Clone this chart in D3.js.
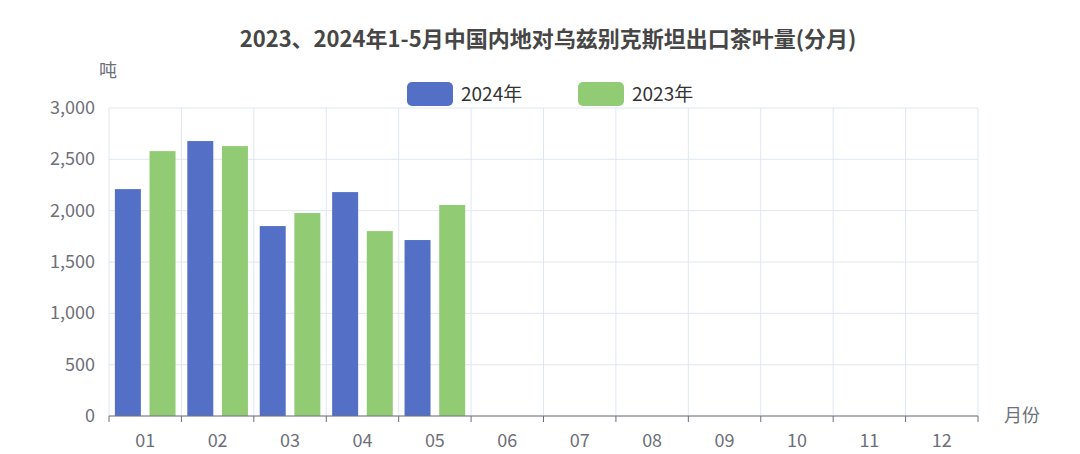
<!DOCTYPE html>
<html><head><meta charset="utf-8">
<script src="https://cdn.jsdelivr.net/npm/d3@7/dist/d3.min.js"></script>
<style>body{margin:0;background:#fff;font-family:"Noto Sans CJK SC","Noto Sans",sans-serif}</style>
</head><body><svg id="c" width="1080" height="454"></svg>
<script>
const months=["01","02","03","04","05","06","07","08","09","10","11","12"];
const s2024=[2210,2678,1850,2181,1714];
const s2023=[2580,2629,1977,1801,2055];
const yTicks=[0,500,1000,1500,2000,2500,3000];
const svg=d3.select("#c");
const L=109,R=978,T=108,B=416;
const x=d3.scaleBand().domain(months).range([L,R]);
const y=d3.scaleLinear().domain([0,3000]).range([B,T]);
const f="#6e7079";
svg.append("text").attr("x",548).attr("y",47).attr("text-anchor","middle").attr("font-size",22).attr("font-weight","bold").attr("fill","#464646").text("2023、2024年1-5月中国内地对乌兹别克斯坦出口茶叶量(分月)");
yTicks.forEach(t=>{svg.append("line").attr("x1",L).attr("x2",R).attr("y1",y(t)).attr("y2",y(t)).attr("stroke","#e0e6f1");
 svg.append("text").attr("x",95).attr("y",y(t)+6).attr("text-anchor","end").attr("font-size",18).attr("fill",f).text(d3.format(",")(t));});
months.forEach(m=>{svg.append("line").attr("x1",x(m)).attr("x2",x(m)).attr("y1",T).attr("y2",B).attr("stroke","#e0e6f1");});
svg.append("line").attr("x1",R).attr("x2",R).attr("y1",T).attr("y2",B).attr("stroke","#e0e6f1");
const inner=d3.scaleBand().domain(["a","b"]).range([0,x.bandwidth()]).paddingInner(0.25).paddingOuter(0.17);
const draw=(data,k,c)=>svg.selectAll(null).data(data).enter().append("rect")
 .attr("x",(d,i)=>x(months[i])+inner(k)).attr("width",inner.bandwidth())
 .attr("y",d=>y(d)).attr("height",d=>B-y(d)).attr("fill",c);
draw(s2024,"a","#5470c6");draw(s2023,"b","#91cc75");
svg.append("line").attr("x1",L).attr("x2",R).attr("y1",B).attr("y2",B).attr("stroke",f);
months.concat([""]).forEach((m,i)=>{const xx=L+i*x.bandwidth();svg.append("line").attr("x1",xx).attr("x2",xx).attr("y1",B).attr("y2",B+6).attr("stroke",f);});
months.forEach(m=>svg.append("text").attr("x",x(m)+x.bandwidth()/2).attr("y",447).attr("text-anchor","middle").attr("font-size",18).attr("fill",f).text(m));
svg.append("text").attr("x",1004).attr("y",422).attr("font-size",18).attr("fill",f).text("月份");
svg.append("text").attr("x",108).attr("y",77).attr("text-anchor","middle").attr("font-size",18).attr("fill",f).text("吨");
[["2024年","#5470c6",407],["2023年","#91cc75",578]].forEach(([t,c,lx])=>{
 svg.append("rect").attr("x",lx).attr("y",82).attr("width",46).attr("height",24).attr("rx",5).attr("fill",c);
 svg.append("text").attr("x",lx+54).attr("y",101).attr("font-size",19).attr("fill","#333").text(t);});
</script></body></html>
